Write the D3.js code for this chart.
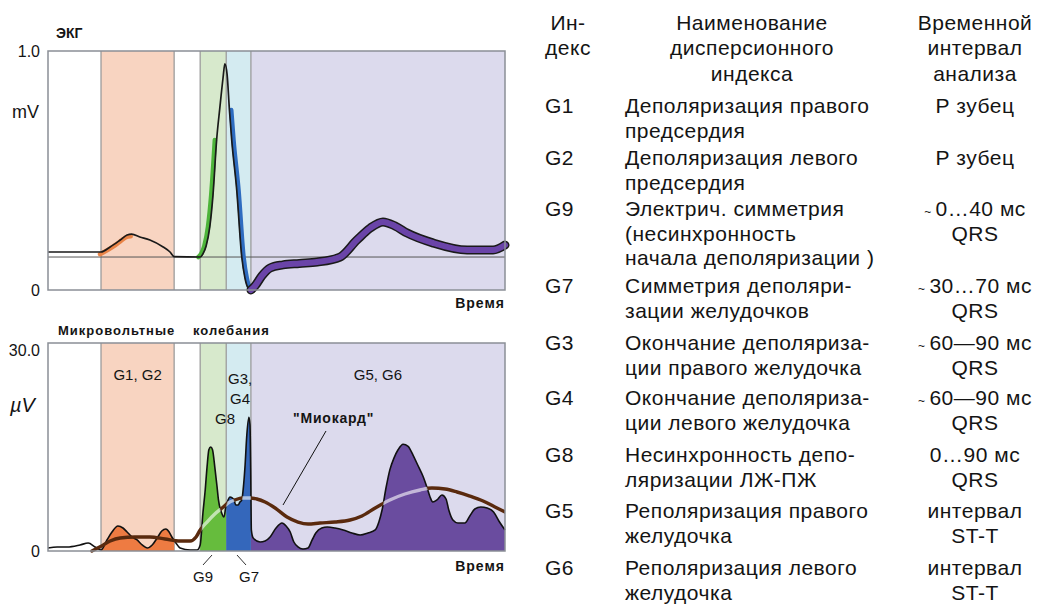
<!DOCTYPE html>
<html><head><meta charset="utf-8">
<script src="https://cdn.jsdelivr.net/npm/d3@7"></script>
<style>
html,body{margin:0;padding:0;background:#fff;}
svg{display:block;}
text{font-family:"Liberation Sans", Arial, Helvetica, sans-serif;fill:#141414;}
</style></head><body>
<svg id="chart" width="1038" height="604"></svg>
<script>
// ---------------- DATA ----------------
// time axis in relative units (0..100), band boundaries
const bandEdges = [0, 11.6, 27.6, 33.3, 39.0, 44.4, 100];
const bandKinds = ["none", "p", "none", "g9", "g7", "st"];
const bandLabels = ["", "G1, G2", "", "", "", "G5, G6"];

// ECG (mV)
const ecgTime = [0, 4.8, 11.6, 13.6, 15.8, 17.3, 18.3, 20.1, 22.3, 25.2, 26.7, 27.6, 33.3, 33.9, 34.6, 35.4, 36.1, 36.9, 37.6, 38.3, 38.7, 39.2, 39.7, 40.2, 41.3, 42.4, 43.1, 43.8, 44.4, 45.3, 46.8, 48.6, 51.4, 55.0, 58.9, 63.9, 67.6, 70.5, 73.3, 75.9, 78.6, 84.2, 91.7, 97.4, 100];
const ecgMv   = [0.159, 0.159, 0.159, 0.180, 0.209, 0.230, 0.234, 0.222, 0.209, 0.180, 0.159, 0.140, 0.138, 0.151, 0.184, 0.264, 0.397, 0.628, 0.762, 0.887, 0.946, 0.900, 0.753, 0.628, 0.418, 0.138, 0.050, 0.008, 0.0, 0.017, 0.059, 0.092, 0.105, 0.111, 0.117, 0.138, 0.209, 0.259, 0.285, 0.268, 0.238, 0.197, 0.167, 0.167, 0.188];
const ecgBaseline = 0.138;
const ecgSpans = [["p", 11.6, 18.3], ["g9", 33.3, 36.9], ["g7", 39.7, 44.4]];

// Microvolt oscillations (µV)
const microTime = [0, 2.0, 4.2, 7.0, 8.8, 10.3, 11.6, 12.9, 14.0, 15.3, 16.4, 17.3, 18.4, 19.5, 20.6, 21.7, 22.8, 23.9, 24.9, 25.8, 26.5, 27.1, 28.0, 28.9, 31.1, 32.6, 33.3, 33.9, 34.4, 34.8, 35.2, 35.6, 36.0, 36.5, 37.0, 37.3, 38.0, 38.5, 38.9, 39.4, 39.8, 40.3, 40.7, 41.1, 41.6, 42.0, 42.4, 42.8, 43.1, 43.5, 43.95, 44.2, 44.35, 44.5, 44.9, 46.4, 47.5, 48.6, 49.9, 51.2, 52.1, 53.0, 53.8, 54.7, 55.8, 56.9, 57.8, 58.6, 59.9, 61.1, 62.8, 64.6, 66.5, 68.3, 70.0, 71.6, 72.4, 73.1, 74.0, 74.8, 75.7, 76.6, 77.7, 78.8, 79.9, 80.9, 82.1, 82.9, 83.6, 84.2, 85.1, 86.2, 87.1, 87.7, 88.6, 89.7, 91.2, 92.3, 93.4, 94.7, 96.1, 97.5, 98.8, 100];
const microUv   = [0.43, 0.58, 0.58, 0.87, 1.15, 0.58, 0.14, 1.59, 2.74, 3.61, 3.32, 2.74, 2.02, 1.59, 0.87, 0.43, 0.87, 1.88, 2.88, 3.17, 2.74, 2.02, 1.15, 0.43, 0.14, 0.14, 0.87, 5.48, 8.80, 12.1, 14.6, 15.0, 14.6, 12.1, 9.2, 7.36, 5.48, 4.90, 6.35, 7.36, 7.79, 7.65, 7.36, 6.63, 6.63, 7.07, 7.36, 9.52, 12.1, 16.7, 19.3, 18.2, 12.0, 3.0, 1.88, 1.30, 1.44, 2.02, 3.32, 4.04, 3.61, 2.74, 1.30, 0.58, 0.29, 0.43, 1.59, 2.60, 3.32, 3.46, 3.32, 3.03, 2.60, 2.31, 2.60, 3.03, 4.18, 5.91, 9.23, 11.7, 13.4, 14.6, 15.4, 15.1, 13.8, 12.4, 10.7, 9.23, 7.79, 7.07, 7.36, 8.08, 7.50, 5.91, 4.47, 4.04, 4.04, 5.05, 6.06, 6.35, 6.20, 5.63, 4.18, 3.03];

// "Миокард" trend line (µV)
const myoTime = [9.6, 11.4, 13.6, 15.8, 19.0, 22.3, 25.6, 28.9, 31.1, 32.4, 33.3, 34.8, 36.5, 38.1, 39.4, 40.9, 42.5, 44.2, 45.7, 47.5, 49.7, 52.3, 54.7, 56.9, 59.5, 62.8, 66.1, 68.7, 71.6, 74.8, 78.1, 81.4, 84.0, 86.9, 89.5, 92.3, 95.2, 97.8, 100];
const myoUv   = [0, 0.6, 1.44, 1.88, 2.02, 2.02, 1.73, 1.44, 1.44, 2.02, 3.03, 4.18, 5.34, 6.20, 6.92, 7.36, 7.65, 7.65, 7.50, 7.07, 6.20, 4.90, 4.18, 3.89, 4.04, 4.18, 4.47, 5.05, 6.20, 7.36, 8.22, 8.80, 9.09, 8.94, 8.51, 7.93, 7.21, 6.35, 5.63];

// Table
const headIndex = ["Ин-", "декс"];
const headName = ["Наименование", "дисперсионного", "индекса"];
const headInterval = ["Временной", "интервал", "анализа"];
const tableIndex = ["G1", "G2", "G9", "G7", "G3", "G4", "G8", "G5", "G6"];
const tableName = [
  ["Деполяризация правого", "предсердия"],
  ["Деполяризация левого", "предсердия"],
  ["Электрич. симметрия", "(несинхронность", "начала деполяризации )"],
  ["Симметрия деполяри-", "зации желудочков"],
  ["Окончание деполяриза-", "ции правого желудочка"],
  ["Окончание деполяриза-", "ции левого желудочка"],
  ["Несинхронность депо-", "ляризации ЛЖ-ПЖ"],
  ["Реполяризация правого", "желудочка"],
  ["Реполяризация левого", "желудочка"]
];
const tableInterval = [
  ["Р зубец"], ["Р зубец"], ["~ 0…40 мс", "QRS"], ["~ 30…70 мс", "QRS"],
  ["~ 60—90 мс", "QRS"], ["~ 60—90 мс", "QRS"], ["0…90 мс", "QRS"],
  ["интервал", "ST-T"], ["интервал", "ST-T"]
];

// ---------------- STYLE / LAYOUT ----------------
const bandBg = {p: "#f8d4c1", g9: "#d7e9cc", g7: "#d4ebf1", st: "#dcdaed"};
const bandFill = {p: "#ee7b42", g9: "#66bc3d", g7: "#3467bb", st: "#6a4c9f"};
const ecgHi = {p: "#e98447", g9: "#4db43a", g7: "#2e6cc0", st: "#6a44a8"};
const hiOffset = {p: [-1, 2.2], g9: [-1.8, 0], g7: [1.8, 0]};
const frameColor = "#8b8f96";
const lineColor = "#9c9c9c";
const rowBase = [113, 165, 216, 293, 350, 405, 462, 518, 575];
const headBase = [30, 55, 81];
const lineH = 24.5;

const svg = d3.select("#chart");
const X0 = 48, X1 = 505;
const x = d3.scaleLinear().domain([0, 100]).range([X0, X1]);
const yTop = d3.scaleLinear().domain([0, 1]).range([290, 51]);
const yBot = d3.scaleLinear().domain([0, 30]).range([551, 343]);

const bands = bandKinds.map((k, i) => ({kind: k, t0: bandEdges[i], t1: bandEdges[i + 1], label: bandLabels[i]}));

function panel(y, fmt) {
  const [b, t] = y.range();
  const g = svg.append("g");
  g.selectAll("rect.band").data(bands.filter(d => d.kind !== "none")).join("rect")
    .attr("x", d => x(d.t0)).attr("width", d => x(d.t1) - x(d.t0))
    .attr("y", t).attr("height", b - t).attr("fill", d => bandBg[d.kind]);
  g.selectAll("line.edge").data(bandEdges.slice(1, -1)).join("line")
    .attr("x1", d => x(d)).attr("x2", d => x(d)).attr("y1", t).attr("y2", b)
    .attr("stroke", lineColor).attr("stroke-width", 1.3);
  const ax = g.append("g").attr("transform", `translate(${X0},0)`)
    .call(d3.axisLeft(y).tickValues(y.domain()).tickFormat(fmt).tickSize(0).tickPadding(8));
  ax.select(".domain").remove();
  ax.attr("font-family", null).attr("font-size", null);
  ax.selectAll("text").attr("font-size", 16).attr("fill", "#141414");
  return g;
}

// ---------------- TOP: ECG ----------------
const gTop = panel(yTop, d => d === 0 ? "0" : "1.0");
gTop.append("line").attr("x1", X0).attr("x2", X1)
  .attr("y1", yTop(ecgBaseline)).attr("y2", yTop(ecgBaseline))
  .attr("stroke", "#555").attr("stroke-width", 1);

const ecg = ecgTime.map((t, i) => ({t, v: ecgMv[i]}));
const ecgLine = d3.line().x(d => x(d.t)).y(d => yTop(d.v)).curve(d3.curveMonotoneX);

ecgSpans.forEach(([k, t0, t1]) => {
  gTop.append("path").attr("d", ecgLine(ecg.filter(d => d.t >= t0 && d.t <= t1)))
    .attr("transform", `translate(${hiOffset[k][0]},${hiOffset[k][1]})`)
    .attr("fill", "none").attr("stroke", ecgHi[k]).attr("stroke-width", 4.5)
    .attr("stroke-linecap", "round").attr("stroke-linejoin", "round");
});
gTop.append("path").attr("d", ecgLine(ecg.filter(d => d.t <= 44.4)))
  .attr("fill", "none").attr("stroke", "#1a1a1a").attr("stroke-width", 1.7).attr("stroke-linejoin", "round");
const tSeg = ecg.filter(d => d.t >= 44.4);
gTop.append("path").attr("d", ecgLine(tSeg)).attr("fill", "none").attr("stroke", "#1a1a1a")
  .attr("stroke-width", 9).attr("stroke-linecap", "round").attr("stroke-linejoin", "round");
gTop.append("path").attr("d", ecgLine(tSeg)).attr("fill", "none").attr("stroke", ecgHi.st)
  .attr("stroke-width", 6).attr("stroke-linecap", "round").attr("stroke-linejoin", "round");

gTop.append("rect").attr("x", X0).attr("y", yTop(1)).attr("width", X1 - X0).attr("height", yTop(0) - yTop(1))
  .attr("fill", "none").attr("stroke", frameColor).attr("stroke-width", 1.5);

svg.append("text").attr("x", 56).attr("y", 38).attr("font-size", 14).attr("font-weight", "bold").text("ЭКГ");
svg.append("text").attr("x", 12).attr("y", 118).attr("font-size", 18).text("mV");
svg.append("text").attr("x", 505).attr("y", 308).attr("text-anchor", "end").attr("font-size", 14)
  .attr("font-weight", "bold").attr("letter-spacing", 1).text("Время");

// ---------------- BOTTOM: microvolt ----------------
const gBot = panel(yBot, d => d === 0 ? "0" : "30.0");
gBot.selectAll(".tick text").filter(d => d !== 0).attr("dy", "0.75em");
const defs = svg.append("defs");
const micro = microTime.map((t, i) => ({t, v: microUv[i]}));
const myo = myoTime.map((t, i) => ({t, v: myoUv[i]}));
const area = d3.area().x(d => x(d.t)).y0(yBot(0)).y1(d => yBot(d.v)).curve(d3.curveMonotoneX);
const areaAbove = d3.area().x(d => x(d.t)).y0(yBot(30) - 5).y1(d => yBot(d.v)).curve(d3.curveMonotoneX);
const microLine = d3.line().x(d => x(d.t)).y(d => yBot(d.v)).curve(d3.curveMonotoneX);

bands.forEach((b, i) => {
  if (b.kind === "none") return;
  defs.append("clipPath").attr("id", "cb" + i).append("rect")
    .attr("x", x(b.t0)).attr("width", x(b.t1) - x(b.t0)).attr("y", yBot(30)).attr("height", yBot(0) - yBot(30));
  gBot.append("path").attr("d", area(micro)).attr("fill", bandFill[b.kind]).attr("clip-path", `url(#cb${i})`);
});
gBot.append("path").attr("d", microLine(micro)).attr("fill", "none").attr("stroke", "#111")
  .attr("stroke-width", 1.6).attr("stroke-linejoin", "round");

// clip regions for the trend line
const cBrown = defs.append("clipPath").attr("id", "cBrown");
cBrown.append("rect").attr("x", 0).attr("y", 0).attr("width", x(bandEdges[3])).attr("height", 604);
cBrown.append("path").attr("d", areaAbove(micro));
defs.append("clipPath").attr("id", "cPaleX").append("rect")
  .attr("x", x(bandEdges[3])).attr("y", 0).attr("width", 600).attr("height", 604);
defs.append("clipPath").attr("id", "cPaleA").append("path").attr("d", area(micro));

const myoLine = d3.line().x(d => x(d.t)).y(d => yBot(d.v)).curve(d3.curveMonotoneX);
gBot.append("path").attr("d", myoLine(myo)).attr("fill", "none").attr("stroke", "#5a2a0e")
  .attr("stroke-width", 3.4).attr("stroke-linecap", "round").attr("clip-path", "url(#cBrown)");
gBot.append("g").attr("clip-path", "url(#cPaleX)").append("path").attr("d", myoLine(myo))
  .attr("fill", "none").attr("stroke", "#ffffff").attr("stroke-opacity", 0.6)
  .attr("stroke-width", 3.4).attr("clip-path", "url(#cPaleA)");

gBot.append("rect").attr("x", X0).attr("y", yBot(30)).attr("width", X1 - X0).attr("height", yBot(0) - yBot(30))
  .attr("fill", "none").attr("stroke", frameColor).attr("stroke-width", 1.5);

// labels
gBot.selectAll("text.bl").data(bands.filter(d => d.label)).join("text")
  .attr("x", d => (x(d.t0) + x(d.t1)) / 2).attr("y", 380).attr("text-anchor", "middle")
  .attr("font-size", 15).text(d => d.label);
svg.append("text").attr("x", 228).attr("y", 384).attr("font-size", 15).text("G3,");
svg.append("text").attr("x", 230).attr("y", 404).attr("font-size", 15).text("G4");
svg.append("text").attr("x", 215).attr("y", 424).attr("font-size", 15).text("G8");
svg.append("text").attr("x", 293).attr("y", 423).attr("font-size", 14).attr("font-weight", "bold")
  .attr("letter-spacing", 0.8).text("\"Миокард\"");
svg.append("line").attr("x1", 326).attr("y1", 431).attr("x2", 283).attr("y2", 505).attr("stroke", "#111").attr("stroke-width", 1);
svg.append("line").attr("x1", 212).attr("y1", 555).attr("x2", 203).attr("y2", 565).attr("stroke", "#333").attr("stroke-width", 1);
svg.append("line").attr("x1", 237).attr("y1", 555).attr("x2", 246).attr("y2", 565).attr("stroke", "#333").attr("stroke-width", 1);
svg.append("text").attr("x", 193).attr("y", 582).attr("font-size", 15).text("G9");
svg.append("text").attr("x", 239).attr("y", 582).attr("font-size", 15).text("G7");
svg.append("text").attr("x", 58).attr("y", 335).attr("font-size", 13).attr("font-weight", "bold").attr("letter-spacing", 1).text("Микровольтные");
svg.append("text").attr("x", 193).attr("y", 335).attr("font-size", 13).attr("font-weight", "bold").attr("letter-spacing", 1).text("колебания");
svg.append("text").attr("x", 10).attr("y", 412).attr("font-size", 20).attr("font-style", "italic")
  .attr("font-family", "'Liberation Serif', 'DejaVu Serif', serif").text("µV");
svg.append("text").attr("x", 505).attr("y", 571).attr("text-anchor", "end").attr("font-size", 14)
  .attr("font-weight", "bold").attr("letter-spacing", 1).text("Время");

// ---------------- TABLE ----------------
const tg = svg.append("g").attr("font-size", 21).attr("letter-spacing", 0.5);
function addInterval(sel, s, xx, yy) {
  const t = sel.append("text").attr("x", xx).attr("y", yy).attr("text-anchor", "middle");
  if (s.startsWith("~ ")) {
    t.append("tspan").attr("font-size", 12).text("~ ");
    t.append("tspan").text(s.slice(2));
  } else t.text(s);
}
headIndex.forEach((s, i) => tg.append("text").attr("x", 568).attr("y", headBase[i]).attr("text-anchor", "middle").text(s));
headName.forEach((s, i) => tg.append("text").attr("x", 752).attr("y", headBase[i]).attr("text-anchor", "middle").text(s));
headInterval.forEach((s, i) => tg.append("text").attr("x", 975).attr("y", headBase[i]).attr("text-anchor", "middle").text(s));
tableIndex.forEach((id, r) => {
  tg.append("text").attr("x", 545).attr("y", rowBase[r]).text(id);
  tableName[r].forEach((s, j) => tg.append("text").attr("x", 625).attr("y", rowBase[r] + j * lineH).text(s));
  tableInterval[r].forEach((s, j) => addInterval(tg, s, 975, rowBase[r] + j * lineH));
});
</script>
</body></html>
